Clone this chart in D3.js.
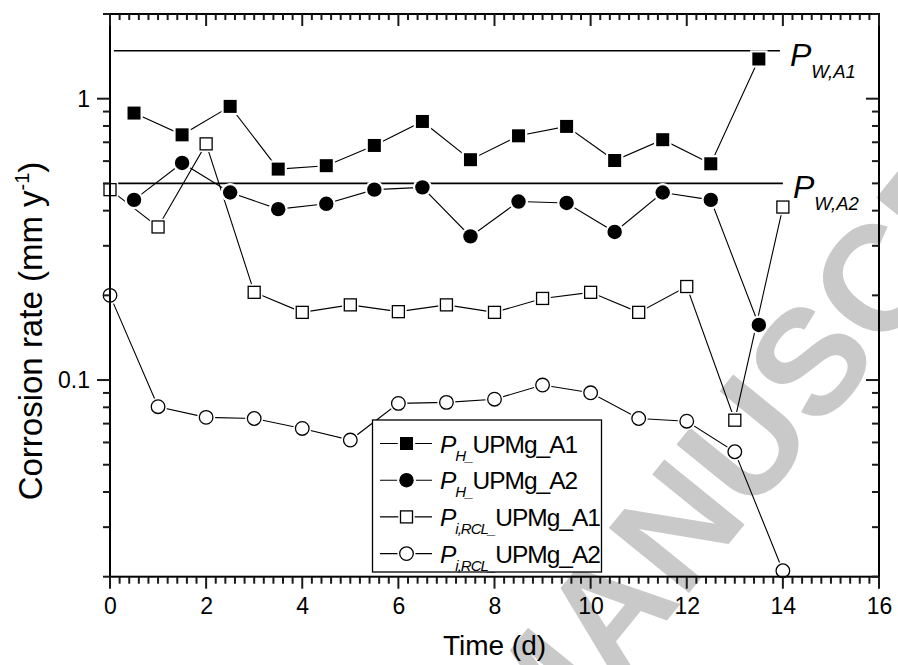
<!DOCTYPE html>
<html>
<head>
<meta charset="utf-8">
<script src="https://cdn.jsdelivr.net/npm/d3@7"></script>
<style>
  body { margin: 0; background: #fff; }
  #wrap { position: relative; width: 898px; height: 665px; overflow: hidden; }
  #wrap svg { position: absolute; left: 0; top: 0; display: block; }
  text { font-family: "Liberation Sans", Arial, Helvetica, sans-serif; fill: #000; }
</style>
</head>
<body>
<div id="wrap">
  <svg id="backdrop" width="898" height="665"></svg>
  <svg id="chart" width="898" height="665"></svg>
</div>
<script>
// ---- data ----
const daysH = [0.5, 1.5, 2.5, 3.5, 4.5, 5.5, 6.5, 7.5, 8.5, 9.5, 10.5, 11.5, 12.5, 13.5];
const pH_A1 = [0.889, 0.744, 0.939, 0.562, 0.578, 0.682, 0.830, 0.607, 0.738, 0.797, 0.603, 0.715, 0.587, 1.384];
const pH_A2 = [0.437, 0.591, 0.464, 0.405, 0.423, 0.475, 0.484, 0.324, 0.431, 0.426, 0.336, 0.464, 0.437, 0.157];
const daysRCL = [0, 1, 2, 3, 4, 5, 6, 7, 8, 9, 10, 11, 12, 13, 14];
const pRCL_A1 = [0.475, 0.350, 0.691, 0.205, 0.174, 0.185, 0.175, 0.185, 0.174, 0.195, 0.205, 0.174, 0.215, 0.072, 0.412];
const pRCL_A2 = [0.200, 0.0804, 0.0737, 0.0730, 0.0673, 0.0612, 0.0826, 0.0833, 0.0855, 0.0960, 0.0901, 0.0730, 0.0714, 0.0556, 0.0210];

// weight-loss reference levels
const pW_A1 = 1.48, pW_A1_span = [0.08, 13.94];
const pW_A2 = 0.5,  pW_A2_span = [0, 14];

const xDomain = [0, 16];
const yDomain = [0.02, 2];
const xMajorTicks = [0, 2, 4, 6, 8, 10, 12, 14, 16];
const yMajorTicks = [0.1, 1];
const yTickLabels = ["0.1", "1"];

const legendEntries = [
  { sub: "H_", name: "UPMg_A1", shape: "square", filled: true },
  { sub: "H_", name: "UPMg_A2", shape: "circle", filled: true },
  { sub: "i,RCL_", name: "UPMg_A1", shape: "square", filled: false },
  { sub: "i,RCL_", name: "UPMg_A2", shape: "circle", filled: false }
];

// ---- layout ----
const plot = { left: 110, right: 879, top: 14, bottom: 576.7 };
const svg = d3.select("#chart");

const x = d3.scaleLinear().domain(xDomain).range([plot.left, plot.right]);
const y = d3.scaleLog().domain(yDomain).range([plot.bottom, plot.top]);

// ---- backdrop watermark (separate layer underneath the chart) ----
const wm = d3.select("#backdrop").append("text")
  .attr("font-size", 150)
  .attr("font-weight", "bold")
  .style("fill", "#c9c9c9")
  .text("ACCEPTED MANUSCRIPT");
const preLen = wm.node().getSubStringLength(0, 9);
const wmX = 536, wmY = 782, wmAngle = -51;
wm.attr("x", -preLen).attr("y", 0)
  .attr("transform", `translate(${wmX},${wmY}) rotate(${wmAngle})`);

// ---- tick values ----
const xMinor = d3.range(0, 81).filter(i => i % 10 !== 0).map(i => i * 0.2);
const yMinor = [];
[0.01, 0.1, 1].forEach(dec => {
  for (let m = 2; m <= 9; m++) {
    const v = +(m * dec).toPrecision(6);
    if (v >= yDomain[0] - 1e-9 && v <= yDomain[1] + 1e-9) yMinor.push(v);
  }
});

// tick labels via d3 axes
function styleAxis(g) {
  g.select(".domain").remove();
  g.selectAll(".tick line").remove();
  g.selectAll(".tick text").attr("font-size", 23).attr("font-family", null).style("fill", "#000");
}
svg.append("g").attr("transform", `translate(0,${plot.bottom})`)
  .call(d3.axisBottom(x).tickValues(xMajorTicks).tickSize(12).tickPadding(9).tickFormat(d3.format("d")))
  .call(styleAxis);
svg.append("g").attr("transform", `translate(${plot.left},0)`)
  .call(d3.axisLeft(y).tickValues(yMajorTicks).tickSize(13).tickPadding(7)
    .tickFormat((d, i) => yTickLabels[i]))
  .call(styleAxis);

// ---- axis titles ----
svg.append("text")
  .attr("x", (plot.left + plot.right) / 2).attr("y", 655)
  .attr("text-anchor", "middle").attr("font-size", 28)
  .text("Time (d)");

const yTitle = svg.append("text")
  .attr("transform", "translate(42,331) rotate(-90)")
  .attr("text-anchor", "middle").attr("font-size", 33);
yTitle.append("tspan").text("Corrosion rate (mm y");
yTitle.append("tspan").attr("font-size", 20).attr("dy", -13).text("-1");
yTitle.append("tspan").attr("dy", 13).text(")");

// ---- reference lines ----
const refs = [
  { v: pW_A1, span: pW_A1_span, sub: "W,A1" },
  { v: pW_A2, span: pW_A2_span, sub: "W,A2" }
];
refs.forEach(r => {
  svg.append("line")
    .attr("x1", x(r.span[0])).attr("x2", x(r.span[1]))
    .attr("y1", y(r.v)).attr("y2", y(r.v))
    .attr("stroke", "#000").attr("stroke-width", 1.6);
  const t = svg.append("text")
    .attr("x", x(r.span[1]) + 10).attr("y", y(r.v) + 15)
    .attr("font-size", 32).attr("font-style", "italic");
  t.append("tspan").text("P");
  t.append("tspan").attr("font-size", 18.5).attr("dy", 12).text(r.sub);
});

// ---- series ----
const lineGen = d3.line().x(d => x(d[0])).y(d => y(d[1]));

function drawMarker(g, cx, cy, shape, filled) {
  const halo = 2.2;
  if (shape === "square") {
    const s = filled ? 13 : 12;
    g.append("rect").attr("x", cx - s / 2 - halo).attr("y", cy - s / 2 - halo)
      .attr("width", s + 2 * halo).attr("height", s + 2 * halo).attr("fill", "#fff");
    g.append("rect").attr("x", cx - s / 2).attr("y", cy - s / 2)
      .attr("width", s).attr("height", s)
      .attr("fill", filled ? "#000" : "#fff")
      .attr("stroke", "#000").attr("stroke-width", filled ? 0 : 1.3);
  } else {
    const r = filled ? 7.2 : 6.8;
    g.append("circle").attr("cx", cx).attr("cy", cy).attr("r", r + halo).attr("fill", "#fff");
    g.append("circle").attr("cx", cx).attr("cy", cy).attr("r", r)
      .attr("fill", filled ? "#000" : "#fff")
      .attr("stroke", "#000").attr("stroke-width", filled ? 0 : 1.3);
  }
}

const series = [
  { xs: daysRCL, ys: pRCL_A2, shape: "circle", filled: false },
  { xs: daysRCL, ys: pRCL_A1, shape: "square", filled: false },
  { xs: daysH, ys: pH_A2, shape: "circle", filled: true },
  { xs: daysH, ys: pH_A1, shape: "square", filled: true }
];

series.forEach(s => {
  const pts = s.xs.map((d, i) => [d, s.ys[i]]);
  const g = svg.append("g");
  g.append("path").attr("d", lineGen(pts))
    .attr("fill", "none").attr("stroke", "#000").attr("stroke-width", 1.1);
  pts.forEach(p => drawMarker(g, x(p[0]), y(p[1]), s.shape, s.filled));
});

// ---- legend ----
const lg = svg.append("g");
lg.append("rect")
  .attr("x", 372.5).attr("y", 420).attr("width", 229).attr("height", 152)
  .attr("fill", "#fff").attr("stroke", "#000").attr("stroke-width", 1.3);
legendEntries.forEach((e, i) => {
  const cy = 443.5 + i * 36.7;
  lg.append("line").attr("x1", 380).attr("x2", 432).attr("y1", cy).attr("y2", cy)
    .attr("stroke", "#000").attr("stroke-width", 1.1);
  drawMarker(lg, 406.5, cy, e.shape, e.filled);
  const t = lg.append("text").attr("x", 440).attr("y", cy + 9)
    .attr("font-size", 24.5).attr("letter-spacing", -1);
  t.append("tspan").attr("font-style", "italic").text("P");
  t.append("tspan").attr("font-style", "italic").attr("font-size", 15).attr("dy", 8).text(e.sub);
  t.append("tspan").attr("dy", -8).text(e.name);
});

// ---- axis frame ----
svg.append("rect")
  .attr("x", plot.left).attr("y", plot.top)
  .attr("width", plot.right - plot.left).attr("height", plot.bottom - plot.top)
  .attr("fill", "none").attr("stroke", "#000").attr("stroke-width", 2);

// ---- tick marks: bottom/left outward, top/right inward ----
const tickG = svg.append("g").attr("stroke", "#1a1a1a").attr("stroke-width", 2);
function hTicks(vals, yPos, len) {
  tickG.selectAll(null).data(vals).enter().append("line")
    .attr("x1", d => x(d)).attr("x2", d => x(d))
    .attr("y1", yPos).attr("y2", yPos + len);
}
function vTicks(vals, xPos, len) {
  tickG.selectAll(null).data(vals).enter().append("line")
    .attr("y1", d => y(d)).attr("y2", d => y(d))
    .attr("x1", xPos).attr("x2", xPos + len);
}
hTicks(xMinor, plot.bottom, 7);
hTicks(xMajorTicks, plot.bottom, 12);
hTicks(xMinor, plot.top, 6);
hTicks(xMajorTicks, plot.top, 12);
vTicks(yMinor, plot.left, -7);
vTicks(yMajorTicks, plot.left, -13);
vTicks(yMinor, plot.right, -7);
vTicks(yMajorTicks, plot.right, -13);
</script>
</body>
</html>
